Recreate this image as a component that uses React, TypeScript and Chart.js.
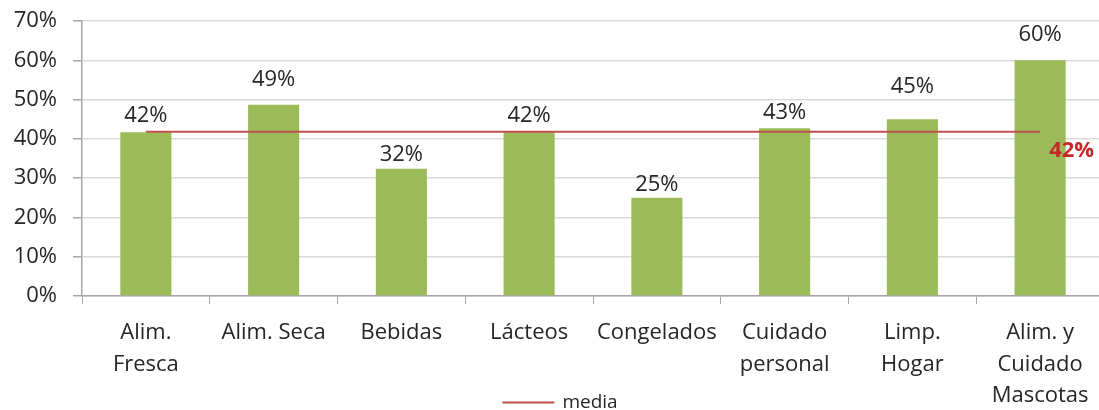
import React, { useEffect, useRef } from 'react';
import { Chart, registerables } from 'chart.js';

Chart.register(...registerables);

const categories: (string | string[])[] = [
  ['Alim.', 'Fresca'],
  'Alim. Seca',
  'Bebidas',
  'Lácteos',
  'Congelados',
  ['Cuidado', 'personal'],
  ['Limp.', 'Hogar'],
  ['Alim. y', 'Cuidado', 'Mascotas'],
];
const shares = [41.7, 48.7, 32.4, 41.7, 25.0, 42.7, 45.0, 60.0];
const mediaValues = [41.8, 41.8, 41.8, 41.8, 41.8, 41.8, 41.8, 41.8];
const mediaLabel = '42%';
const legendLabel = 'media';
const yMax = 70;
const yStep = 10;

// label placement (style): distance from bar top to the label baseline, in px
const labelLift = [10, 19, 8, 10, 7, 9, 26, 19];

const FONT = '"Open Sans"';
const TEXT = '#262626';
const RED_LINE = '#C0504D';

const labelsPlugin = {
  id: 'valueLabels',
  afterDatasetsDraw(chart: any) {
    const ctx = chart.ctx;
    const meta = chart.getDatasetMeta(0);
    ctx.save();
    ctx.font = `22px ${FONT}`;
    ctx.fillStyle = TEXT;
    ctx.textAlign = 'center';
    ctx.textBaseline = 'alphabetic';
    meta.data.forEach((bar: any, i: number) => {
      ctx.fillText(Math.round(shares[i]) + '%', bar.x, bar.y - labelLift[i]);
    });
    const lm = chart.getDatasetMeta(1);
    const last = lm.data[lm.data.length - 1];
    ctx.font = `bold 22px ${FONT}`;
    ctx.fillStyle = '#C42828';
    ctx.textAlign = 'left';
    ctx.textBaseline = 'middle';
    ctx.fillText(mediaLabel, last.x + 9, last.y + 19);

    // legend
    ctx.font = `19px ${FONT}`;
    const tw = ctx.measureText(legendLabel).width;
    const lineW = 52;
    const gap = 8;
    const total = lineW + gap + tw;
    const x0 = chart.width / 2 - total / 2;
    const y = 402.5;
    ctx.strokeStyle = RED_LINE;
    ctx.lineWidth = 2;
    ctx.beginPath();
    ctx.moveTo(x0, y);
    ctx.lineTo(x0 + lineW, y);
    ctx.stroke();
    ctx.fillStyle = TEXT;
    ctx.textAlign = 'left';
    ctx.textBaseline = 'middle';
    ctx.fillText(legendLabel, x0 + lineW + gap, y);
    ctx.restore();
  },
};

export default function App() {
  const ref = useRef<HTMLCanvasElement>(null);
  useEffect(() => {
    if (!ref.current) return;
    Chart.defaults.font.family = FONT;
    Chart.defaults.color = TEXT;
    const chart = new Chart(ref.current, {
      type: 'bar',
      data: {
        labels: categories,
        datasets: [
          {
            type: 'bar',
            label: 'cuota',
            data: shares,
            backgroundColor: '#9BBB59',
            barPercentage: 0.4,
            categoryPercentage: 1,
            order: 1,
          },
          {
            type: 'line',
            label: legendLabel,
            data: mediaValues,
            borderColor: RED_LINE,
            backgroundColor: RED_LINE,
            borderWidth: 2,
            pointRadius: 0,
            order: 0,
          } as any,
        ],
      },
      options: {
        responsive: false,
        animation: false,
        layout: { padding: { top: 21, right: 16, left: 0, bottom: 0 } },
        plugins: {
          tooltip: { enabled: false },
          legend: { display: false },
        },
        scales: {
          x: {
            grid: {
              display: true,
              drawOnChartArea: false,
              offset: true,
              tickLength: 8,
              color: '#A6A6A6',
            },
            border: { color: '#A6A6A6', width: 1.5 },
            ticks: {
              font: { size: 22, lineHeight: 1.44 },
              color: TEXT,
              padding: 13,
              maxRotation: 0,
              autoSkip: false,
            },
            afterFit: (scale: any) => {
              scale.height = 114;
              scale.paddingLeft = 0;
              scale.paddingRight = 0;
            },
          },
          y: {
            min: 0,
            max: yMax,
            ticks: {
              stepSize: yStep,
              callback: (v: any) => v + '%',
              font: { size: 22 },
              color: TEXT,
              padding: 16,
            },
            grid: {
              color: '#D9D9D9',
              tickColor: '#A6A6A6',
              tickLength: 9,
              lineWidth: 1.5,
            },
            border: { color: '#A6A6A6', width: 1.5 },
            afterFit: (scale: any) => {
              scale.width = 82;
              scale.paddingTop = 0;
              scale.paddingBottom = 0;
            },
          },
        },
      },
      plugins: [labelsPlugin],
    });
    return () => chart.destroy();
  }, []);
  return (
    <div style={{ position: 'fixed', left: 0, top: 0, width: 1099, height: 410, overflow: 'hidden' }}>
      <canvas ref={ref} width={1120} height={410} style={{ display: 'block' }} />
    </div>
  );
}
